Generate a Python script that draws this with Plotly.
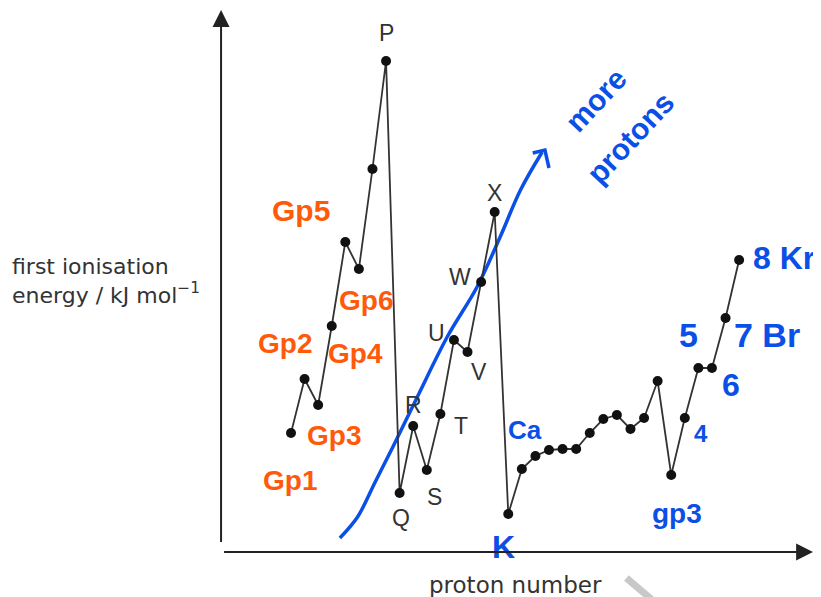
import plotly.graph_objects as go

# schematic first ionisation energies, Li to Kr (arbitrary units)
elements = ["Li", "Be", "B", "C", "N", "O", "F", "Ne", "Na", "Mg", "Al", "Si", "P", "S",
            "Cl", "Ar", "K", "Ca", "Sc", "Ti", "V", "Cr", "Mn", "Fe", "Co", "Ni", "Cu",
            "Zn", "Ga", "Ge", "As", "Se", "Br", "Kr"]
proton_number = [3, 4, 5, 6, 7, 8, 9, 10, 11, 12, 13, 14, 15, 16, 17, 18, 19, 20, 21,
                 22, 23, 24, 25, 26, 27, 28, 29, 30, 31, 32, 33, 34, 35, 36]
energy = [119, 173, 147, 226, 310, 283, 383, 491, 59, 126, 82, 138, 212, 200,
          270, 340, 38, 83, 96, 102, 103, 103, 119, 133, 137, 123, 134,
          171, 77, 134, 184, 184, 234, 292]

# printed letters on the original figure: element -> (letter, dx, dy) offset in px
letters = {"Ne": ("P", 0, 28), "Na": ("Q", 1, -25), "Mg": ("R", 0, 21), "Al": ("S", 8, -27),
           "Si": ("T", 21, -12), "P": ("U", -17, 7), "S": ("V", 11, -20),
           "Cl": ("W", -21, 5), "Ar": ("X", 0, 19)}

# handwritten notes: element -> (text, dx, dy, font size)
orange_notes = {"Li": ("Gp1", -1, -47, 28), "Be": ("Gp2", -20, 36, 28),
                "B": ("Gp3", 16, -30, 28), "C": ("Gp4", 24, -27, 28),
                "N": ("Gp5", -44, 32, 30), "O": ("Gp6", 7, -31, 28)}
blue_notes = {"Ca": ("Ca", 3, 39, 26), "K": ("K", -5, -33, 32), "Ga": ("gp3", 6, -38, 28),
              "Ge": ("4", 16, -15, 24), "As": ("5", -10, 33, 34), "Se": ("6", 19, -17, 32),
              "Br": ("7 Br", 41, -17, 34)}

# hand-drawn "more protons" arrow (data coords)
curve_x = [6.6, 7.9, 9.2, 10.5, 12.3, 14.5, 16.7, 18.4, 19.9, 21.5]
curve_y = [14, 35, 70, 105, 155, 215, 265, 315, 362, 400]
head_x = [20.8, 21.7, 22.0]
head_y = [399, 402, 384]

ORANGE = "#ff5a0a"
BLUE = "#0a4fe6"
INK = "#222222"
HAND = "Liberation Sans Narrow, Liberation Sans"

fig = go.Figure()

fig.add_trace(go.Scatter(x=curve_x, y=curve_y, mode="lines",
                         line=dict(color=BLUE, width=3.5, shape="spline"), hoverinfo="skip"))
fig.add_trace(go.Scatter(x=head_x, y=head_y, mode="lines",
                         line=dict(color=BLUE, width=3.5), hoverinfo="skip"))

fig.add_trace(go.Scatter(x=proton_number, y=energy, mode="lines+markers",
                         line=dict(color="#333333", width=1.8),
                         marker=dict(color="#111111", size=10),
                         text=elements, cliponaxis=False))

idx = {e: i for i, e in enumerate(elements)}
ann = []


def note(el, txt, dx, dy, color, size, family, xanchor="center"):
    i = idx[el]
    ann.append(dict(x=proton_number[i], y=energy[i], text=txt, showarrow=False,
                    xshift=dx, yshift=dy, xanchor=xanchor,
                    font=dict(color=color, size=size, family=family)))


for el, (t, dx, dy) in letters.items():
    note(el, t, dx, dy, "#333333", 23, "Liberation Sans, Arial")
for el, (t, dx, dy, s) in orange_notes.items():
    note(el, "<b>%s</b>" % t, dx, dy, ORANGE, s, HAND)
for el, (t, dx, dy, s) in blue_notes.items():
    note(el, "<b>%s</b>" % t, dx, dy, BLUE, s, HAND)
note("Kr", "<b>8 Kr</b>", 12, 2, BLUE, 32, HAND, "left")

ann.append(dict(x=25.4, y=452, text="<b>more</b>", textangle=-47, showarrow=False,
                font=dict(color=BLUE, size=30, family=HAND)))
ann.append(dict(x=28.0, y=415, text="<b>protons</b>", textangle=-47, showarrow=False,
                font=dict(color=BLUE, size=30, family=HAND)))

# axes drawn as arrows
X0, X1, Y1 = -2.15, 41.45, 542
ann.append(dict(x=X0, y=Y1, ax=X0, ay=0, xref="x", yref="y", axref="x", ayref="y",
                text=" ", showarrow=True, arrowhead=2, arrowsize=1.7, arrowwidth=2,
                arrowcolor=INK))
ann.append(dict(x=X1, y=0, ax=X0, ay=0, xref="x", yref="y", axref="x", ayref="y",
                text=" ", showarrow=True, arrowhead=2, arrowsize=1.7, arrowwidth=2,
                arrowcolor=INK))

ann.append(dict(x=-17.7, y=271, xanchor="left", yanchor="middle", align="left",
                text="first ionisation<br>energy / kJ mol<sup>−1</sup>", showarrow=False,
                font=dict(color="#333333", size=22, family="DejaVu Sans")))
ann.append(dict(x=19.5, y=-33, xanchor="center", yanchor="middle",
                text="proton number", showarrow=False,
                font=dict(color="#333333", size=23, family="DejaVu Sans")))

# page body has an 8px margin, so the figure is 8px smaller than the window
fig.update_layout(
    width=813, height=589,
    margin=dict(l=0, r=0, t=0, b=0),
    paper_bgcolor="white", plot_bgcolor="white",
    showlegend=False,
    xaxis=dict(range=[-17.84, 42.03], visible=False, fixedrange=True),
    yaxis=dict(range=[-45, 544], visible=False, fixedrange=True),
    annotations=ann,
    shapes=[dict(type="line", x0=27.7, y0=-26, x1=29.6, y1=-48, xref="x", yref="y",
                 line=dict(color="#c8c8c8", width=7))],
)

fig.write_html("out.html")
